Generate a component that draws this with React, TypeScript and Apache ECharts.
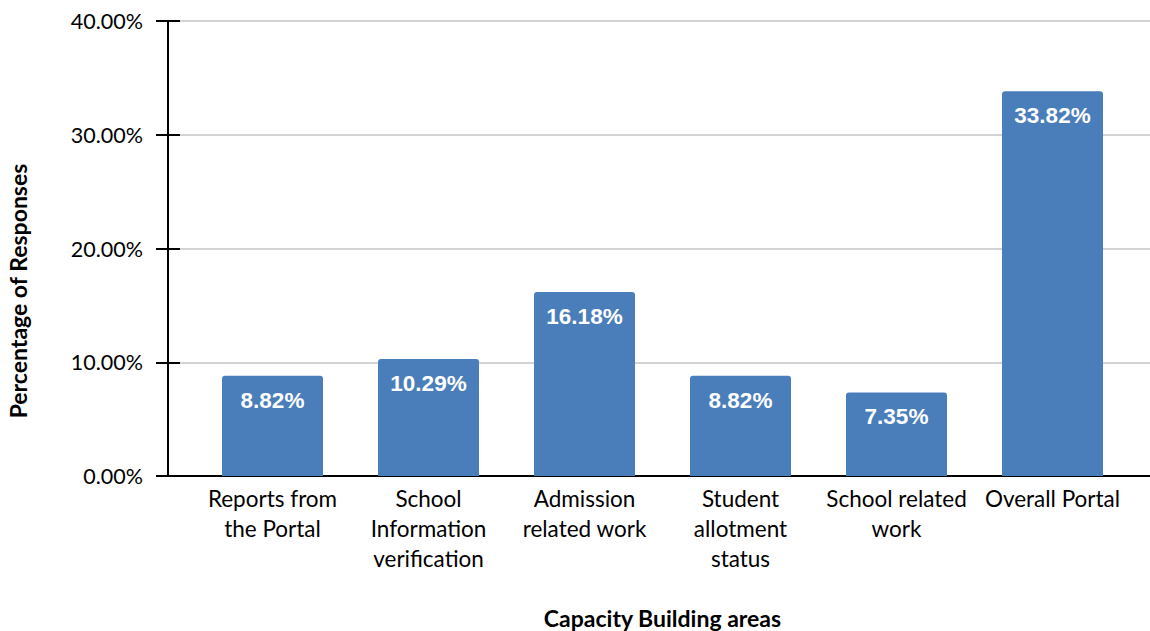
import React, { useEffect, useRef } from "react";
import * as echarts from "echarts";

const categories = [
  "Reports from\nthe Portal",
  "School\nInformation\nverification",
  "Admission\nrelated work",
  "Student\nallotment\nstatus",
  "School related\nwork",
  "Overall Portal",
];
const values = [8.82, 10.29, 16.18, 8.82, 7.35, 33.82];
const yTicks = [0, 10, 20, 30, 40];
const xTitle = "Capacity Building areas";
const yTitle = "Percentage of Responses";

export default function App() {
  const ref = useRef<HTMLDivElement>(null);
  useEffect(() => {
    if (!ref.current) return;
    const chart = echarts.init(ref.current, undefined, { renderer: "svg" });
    const font = "Lato, 'Open Sans', sans-serif";
    const yMin = yTicks[0];
    const yMax = yTicks[yTicks.length - 1];
    const yInt = yTicks[1] - yTicks[0];
    chart.setOption({
      animation: false,
      grid: [
        { left: 168, right: 0, top: 21, bottom: 155, containLabel: false, outerBoundsMode: "none" },
        { left: 194.5, right: 19.5, top: 21, bottom: 155, containLabel: false, outerBoundsMode: "none" },
      ],
      xAxis: [
        {
          gridIndex: 0,
          type: "category",
          data: [""],
          axisLine: { show: true, lineStyle: { color: "#000", width: 2 } },
          axisTick: { show: false },
          axisLabel: { show: false },
        },
        {
          gridIndex: 1,
          type: "category",
          data: categories,
          axisLine: { show: false },
          axisTick: { show: false },
          axisLabel: {
            interval: 0,
            margin: 7,
            color: "#000",
            fontFamily: font,
            fontSize: 22.5,
            lineHeight: 30,
          },
          name: xTitle,
          nameLocation: "middle",
          nameGap: 130,
          nameTextStyle: {
            color: "#000",
            fontFamily: font,
            fontWeight: "bold",
            fontSize: 23,
          },
        },
      ],
      yAxis: [
        {
          gridIndex: 0,
          type: "value",
          min: yMin,
          max: yMax,
          interval: yInt,
          axisLine: { show: true, lineStyle: { color: "#000", width: 2 } },
          axisTick: { show: true, length: 12, lineStyle: { color: "#000", width: 2 } },
          axisLabel: {
            margin: 25,
            color: "#000",
            fontFamily: font,
            fontSize: 21.5,
            formatter: (v: number) => v.toFixed(2) + "%",
          },
          splitLine: { show: true, lineStyle: { color: "#c4c4c4", width: 1.5 } },
        },
        {
          gridIndex: 0,
          type: "value",
          min: yMin,
          max: yMax,
          interval: yInt,
          position: "left",
          axisLine: { show: false },
          axisTick: { show: true, inside: true, length: 12, lineStyle: { color: "#000", width: 2 } },
          axisLabel: { show: false },
          splitLine: { show: false },
        },
        {
          gridIndex: 1,
          type: "value",
          min: yMin,
          max: yMax,
          interval: yInt,
          show: false,
        },
      ],
      series: [
        {
          type: "bar",
          xAxisIndex: 1,
          yAxisIndex: 2,
          data: values,
          barWidth: 101,
          itemStyle: { color: "#4a7ebb", borderRadius: [3, 3, 0, 0] },
          label: {
            show: true,
            position: "insideTop",
            distance: 13,
            color: "#fff",
            fontFamily: "'Liberation Sans', Arial, sans-serif",
            fontWeight: "bold",
            fontSize: 22.5,
            formatter: (p: any) => p.value.toFixed(2) + "%",
          },
        },
      ],
      graphic: [
        {
          type: "text",
          x: 18,
          y: 291,
          rotation: Math.PI / 2,
          style: {
            text: yTitle,
            fill: "#000",
            font: "bold 23px " + font,
            align: "center",
            verticalAlign: "middle",
          },
        },
      ],
    });
    return () => chart.dispose();
  }, []);
  return <div ref={ref} style={{ width: 1150, height: 631, position: "absolute", left: 0, top: 0 }} />;
}
